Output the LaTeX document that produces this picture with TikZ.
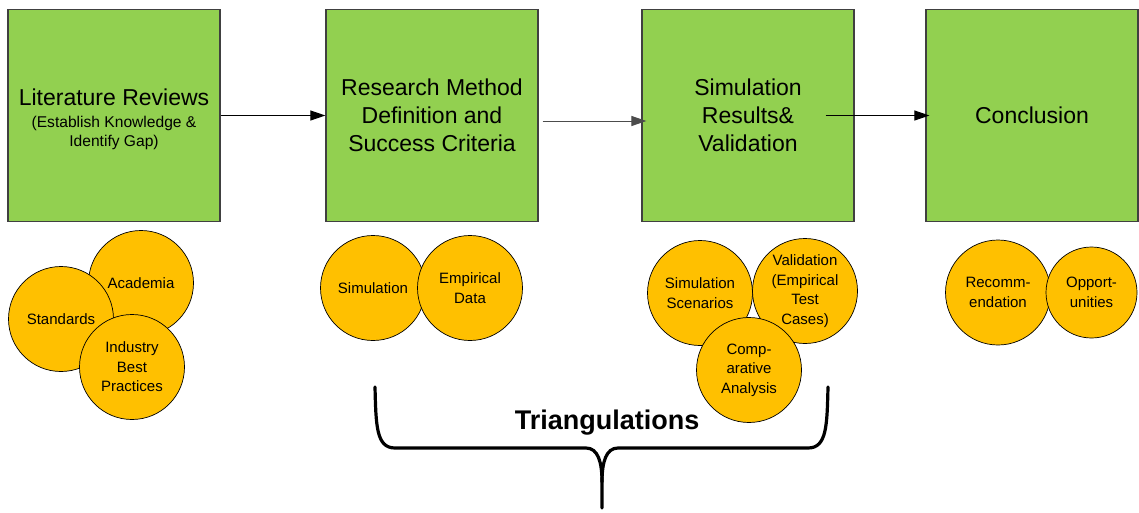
\documentclass[tikz,border=0pt]{standalone}
\usepackage{fontspec}
\setmainfont{Liberation Sans}
\usetikzlibrary{arrows.meta,positioning}
\definecolor{boxgreen}{HTML}{92D050}
\definecolor{bubblegold}{HTML}{FFC000}

\begin{document}
\begin{tikzpicture}[%
    x=1pt, y=-1pt,                          % Pixel-like units, y runs down
    >={Triangle[length=15pt,width=10pt]},   % Filled arrow heads
    every node/.style={inner sep=0pt},
    ]
% -------------------------------------------------
% A few styles for stages, bubbles and connectors
\tikzset{
  stage/.style={draw=black!75, line width=1.2pt, fill=boxgreen, minimum size=212pt,
    align=center, font=\fontsize{23}{28}\selectfont},
  bubble/.style={circle, draw=black, line width=0.7pt, fill=bubblegold, minimum size=105pt,
    align=center, font=\fontsize{15}{19.5}\selectfont},
  flow/.style={->, draw, line width=1pt},
  bracket/.style={draw, line width=3.2pt, line cap=round, line join=round},
}
\newcommand\subtext{\fontsize{15.6}{19}\selectfont}
\useasboundingbox (0,0) rectangle (1139,512);
% -------------------------------------------------
% The four stages
\node [stage] (lit) at (114,115.5)
  {\rule{0pt}{24pt}Literature Reviews\\[-6.5pt]\subtext(Establish Knowledge \&\\[-9pt]\subtext Identify Gap)};
\node [stage] (method) at (432,115.5) {Research Method\\Definition and\\Success Criteria};
\node [stage] (results) at (748,115.5) {Simulation\\Results\&\\Validation};
\node [stage] (concl) at (1032,115.5) {Conclusion};
% Connect the stages
\draw [flow] (lit) -- (method);
\draw [flow, black!70] ([xshift=4pt,yshift=-5.5pt]method.east) -- ([xshift=5pt,yshift=-5.5pt]results.west);
\draw [flow] ([xshift=-29pt]results.east) -- ([xshift=4pt]concl.west);
% -------------------------------------------------
% Bubbles below each stage (later ones lie on top)
\node [bubble] (academia) at (141,283) {Academia};
\node [bubble] (standards) at (61,319) {Standards};
\node [bubble] (industry) at (132,367) {Industry\\Best\\Practices};
\node [bubble] (sim) at (373,288) {Simulation};
\node [bubble] (empirical) at (470,288) {Empirical\\Data};
\node [bubble] (scenarios) at (700,293) {Simulation\\Scenarios};
\node [bubble] (validation) at (805,291) {Validation\\(Empirical\\Test\\Cases)};
\node [bubble] (compare) at (749,370) {Comp-\\arative\\Analysis};
\node [bubble] (recomm) at (998,292.5) {Recomm-\\endation};
\node [bubble, minimum size=91pt] (opport) at (1091.5,292.5) {Opport-\\unities};
% -------------------------------------------------
% The brace under the middle stages
\draw [bracket] (375,387) .. controls (376,425) and (376,448) .. (395,448) -- (586,448)
  .. controls (598,448) and (602,462) .. (602,482) -- (602,508);
\draw [bracket] (828,387) .. controls (827,425) and (827,448) .. (808,448) -- (618,448)
  .. controls (606,448) and (602,462) .. (602,482);
\node [font=\bfseries\fontsize{27}{32}\selectfont] (triang) at (607,423) {Triangulations};
% -------------------------------------------------
\end{tikzpicture}
\end{document}
